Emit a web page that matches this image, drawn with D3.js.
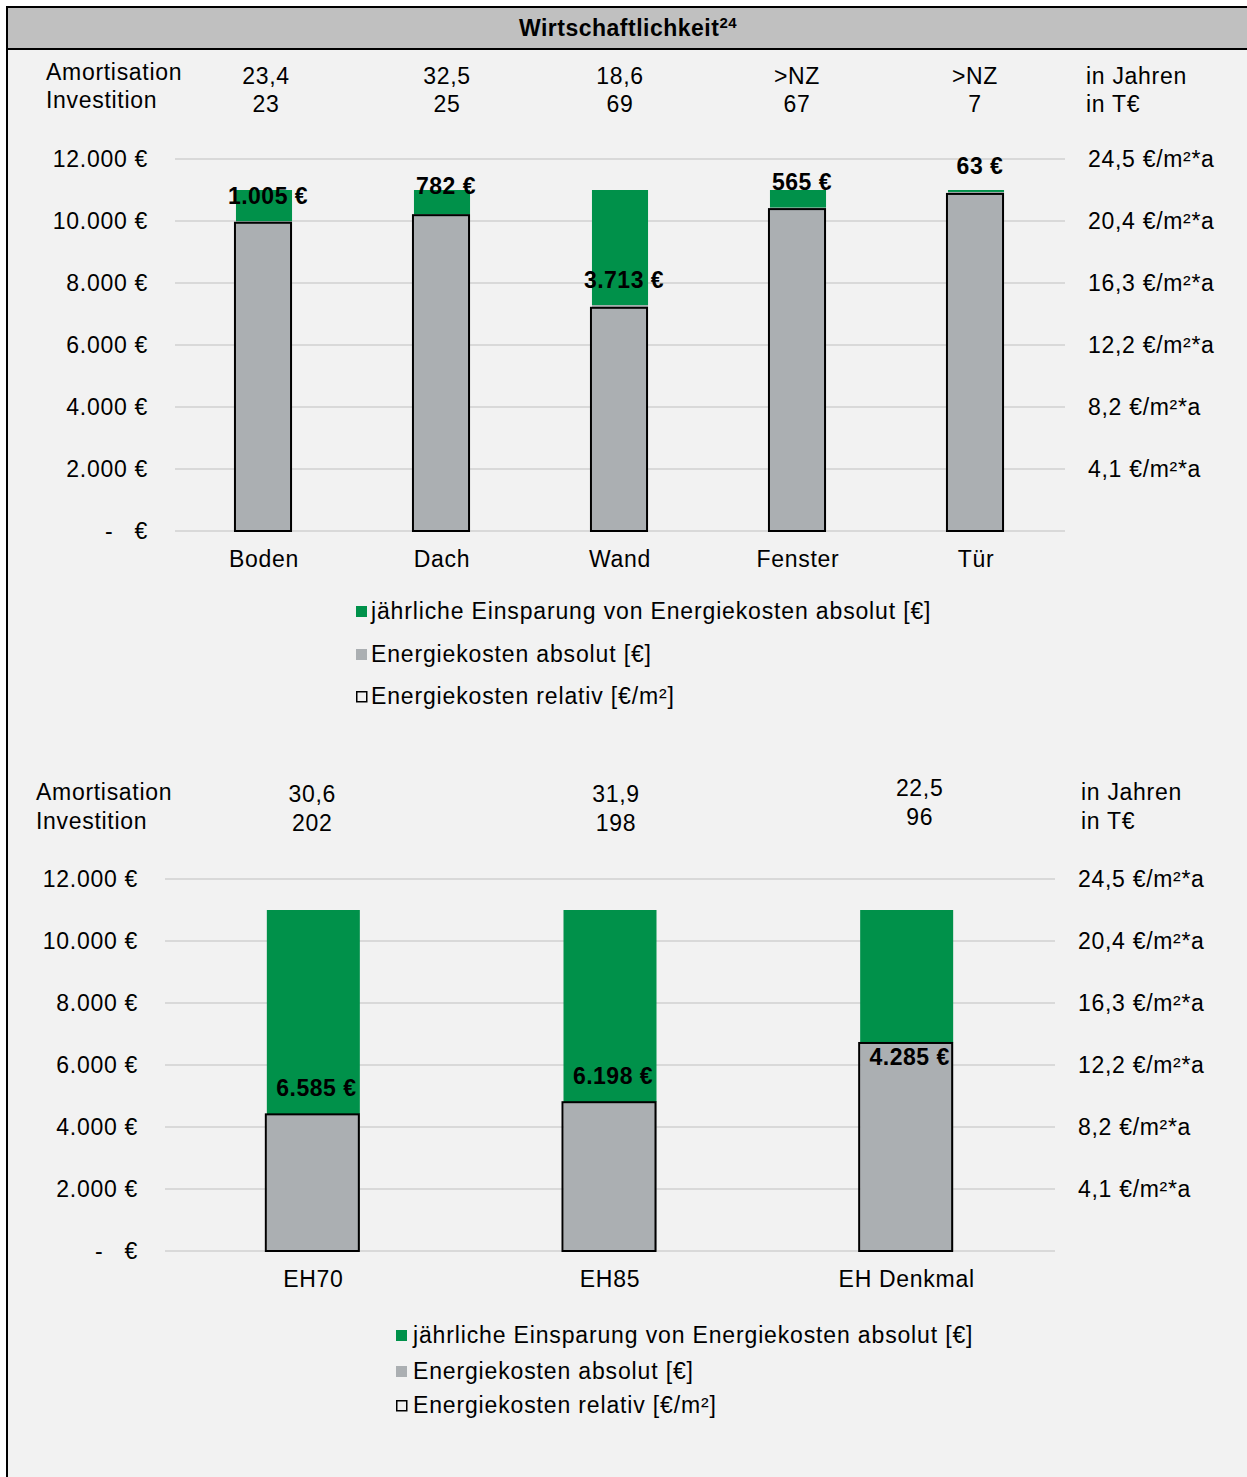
<!DOCTYPE html>
<html>
<head>
<meta charset="utf-8">
<script src="https://cdn.jsdelivr.net/npm/d3@7"></script>
<style>
  html, body { margin: 0; padding: 0; background: #ffffff; }
  svg { display: block; }
  text { font-family: "Liberation Sans", Arial, sans-serif; fill: #000; letter-spacing: 0.7px; }
  text.bold { letter-spacing: 0.5px; }
</style>
</head>
<body>
<svg id="chart" width="1247" height="1477"></svg>
<script>
// ---------------- DATA ----------------
const title = "Wirtschaftlichkeit";
const titleSup = "24";

const catsTop = ["Boden", "Dach", "Wand", "Fenster", "Tür"];
const savingsTop = [1005, 782, 3713, 565, 63];          // jährliche Einsparung [€]
const absoluteTop = [9995, 10218, 7287, 10435, 10937];  // Energiekosten absolut [€]
const relativeTop = [20.3, 20.8, 14.7, 21.2, 22.2];     // Energiekosten relativ [€/m²a]
const amortTop = ["23,4", "32,5", "18,6", ">NZ", ">NZ"];
const investTop = ["23", "25", "69", "67", "7"];

const catsBottom = ["EH70", "EH85", "EH Denkmal"];
const savingsBottom = [6585, 6198, 4285];
const absoluteBottom = [4415, 4802, 6715];
const relativeBottom = [9.0, 9.8, 13.7];
const amortBottom = ["30,6", "31,9", "22,5"];
const investBottom = ["202", "198", "96"];

const leftTickValues = [0, 2000, 4000, 6000, 8000, 10000, 12000];
const leftTickLabels = ["-   €", "2.000 €", "4.000 €", "6.000 €", "8.000 €", "10.000 €", "12.000 €"];
const rightMax = 24.5;
const rightTickLabels = ["4,1 €/m²*a", "8,2 €/m²*a", "12,2 €/m²*a", "16,3 €/m²*a", "20,4 €/m²*a", "24,5 €/m²*a"];

const legendLabels = [
  "jährliche Einsparung von Energiekosten absolut [€]",
  "Energiekosten absolut [€]",
  "Energiekosten relativ [€/m²]"
];
const rowLabels = ["Amortisation", "Investition"];
const unitLabels = ["in Jahren", "in T€"];

// ---------------- STYLE ----------------
const GREEN = "#00914a";
const GRAY = "#abafb2";
const GRID = "#d9d9d9";
const FS = 23;

const svg = d3.select("#chart");

// frame
svg.append("rect").attr("x", 7).attr("y", 7).attr("width", 1260).attr("height", 1490)
  .attr("fill", "#f2f2f2").attr("stroke", "#000").attr("stroke-width", 2);
svg.append("rect").attr("x", 7).attr("y", 7).attr("width", 1260).attr("height", 42)
  .attr("fill", "#c0c0c0").attr("stroke", "#000").attr("stroke-width", 2);
const tt = svg.append("text").attr("class", "bold").attr("x", 628).attr("y", 36).attr("text-anchor", "middle")
  .attr("font-weight", "bold").attr("font-size", 23);
tt.append("tspan").text(title);
tt.append("tspan").attr("font-size", 15).attr("dy", -8).text(titleSup);

function drawChart(cfg) {
  const g = svg.append("g");
  const y = d3.scaleLinear().domain([0, 12000]).range([cfg.y0, cfg.y0 - 372]);
  const yR = d3.scaleLinear().domain([0, rightMax]).range([cfg.y0, cfg.y0 - 372]);
  const x = d3.scaleBand().domain(cfg.cats).range([cfg.x0, cfg.x1])
    .paddingInner(cfg.pad).paddingOuter(cfg.pad / 2);

  // gridlines
  g.selectAll("line.grid").data(leftTickValues).join("line")
    .attr("x1", cfg.x0).attr("x2", cfg.x1)
    .attr("y1", d => y(d)).attr("y2", d => y(d))
    .attr("stroke", GRID).attr("stroke-width", 2);

  // left axis
  const axL = d3.axisLeft(y).tickValues(leftTickValues)
    .tickFormat((d, i) => leftTickLabels[i]).tickSize(0).tickPadding(27);
  const gl = g.append("g").attr("transform", `translate(${cfg.x0},0)`).call(axL);
  gl.select(".domain").remove();
  gl.selectAll("text").attr("font-size", FS).attr("font-family", "Liberation Sans, Arial, sans-serif")
    .style("white-space", "pre").attr("fill", "#000");

  // right axis
  const rTicks = rightTickLabels.map((_, i) => rightMax / 6 * (i + 1));
  const axR = d3.axisRight(yR).tickValues(rTicks)
    .tickFormat((d, i) => rightTickLabels[i]).tickSize(0).tickPadding(23);
  const gr = g.append("g").attr("transform", `translate(${cfg.x1},0)`).call(axR);
  gr.select(".domain").remove();
  gr.selectAll("text").attr("font-size", FS).attr("font-family", "Liberation Sans, Arial, sans-serif").attr("fill", "#000");

  // bottom axis
  const axB = d3.axisBottom(x).tickSize(0).tickPadding(0);
  const gb = g.append("g").attr("transform", `translate(0,${cfg.y0})`).call(axB);
  gb.select(".domain").remove();
  gb.selectAll("text").attr("font-size", FS).attr("font-family", "Liberation Sans, Arial, sans-serif")
    .attr("fill", "#000").attr("dy", 36).attr("y", 0);

  const rows = cfg.cats.map((c, i) => ({
    c, s: cfg.sav[i], a: cfg.abs[i], r: cfg.rel[i], i
  }));

  // gray absolute
  g.selectAll("rect.abs").data(rows).join("rect")
    .attr("x", d => x(d.c)).attr("width", x.bandwidth())
    .attr("y", d => y(d.a)).attr("height", d => y(0) - y(d.a))
    .attr("fill", GRAY);
  // green savings stacked
  g.selectAll("rect.sav").data(rows).join("rect")
    .attr("x", d => x(d.c)).attr("width", x.bandwidth())
    .attr("y", d => y(d.a + d.s)).attr("height", d => y(d.a) - y(d.a + d.s))
    .attr("fill", GREEN);
  // outline relative
  g.selectAll("rect.rel").data(rows).join("rect")
    .attr("x", d => x(d.c) - 1).attr("width", x.bandwidth())
    .attr("y", d => yR(d.r)).attr("height", d => yR(0) - yR(d.r))
    .attr("fill", "none").attr("stroke", "#000").attr("stroke-width", 2);

  // savings labels
  const fmt = d3.formatLocale({ decimal: ",", thousands: ".", grouping: [3], currency: ["", " €"] }).format("$,.0f");
  g.selectAll("text.lab").data(rows).join("text")
    .attr("class", "bold")
    .attr("x", d => x(d.c) + x.bandwidth() / 2 + cfg.labDx)
    .attr("y", d => y(d.a) + cfg.labDy[d.i])
    .attr("text-anchor", "middle").attr("font-weight", "bold").attr("font-size", FS)
    .text(d => fmt(d.s));

  // annotation rows
  g.append("text").attr("x", cfg.rowX).attr("y", cfg.rowY[0]).attr("font-size", FS).text(rowLabels[0]);
  g.append("text").attr("x", cfg.rowX).attr("y", cfg.rowY[1]).attr("font-size", FS).text(rowLabels[1]);
  g.append("text").attr("x", cfg.unitX).attr("y", cfg.rowY[0] + cfg.unitDy).attr("font-size", FS).text(unitLabels[0]);
  g.append("text").attr("x", cfg.unitX).attr("y", cfg.rowY[1] + cfg.unitDy).attr("font-size", FS).text(unitLabels[1]);
  g.selectAll("text.am").data(rows).join("text")
    .attr("x", d => x(d.c) + x.bandwidth() / 2 + cfg.annDx[d.i])
    .attr("y", d => cfg.rowY[0] + cfg.annDy[d.i])
    .attr("text-anchor", "middle").attr("font-size", FS).text(d => cfg.amort[d.i]);
  g.selectAll("text.inv").data(rows).join("text")
    .attr("x", d => x(d.c) + x.bandwidth() / 2 + cfg.annDx[d.i])
    .attr("y", d => cfg.rowY[1] + cfg.annDy[d.i])
    .attr("text-anchor", "middle").attr("font-size", FS).text(d => cfg.invest[d.i]);

  // legend
  const colors = [GREEN, GRAY, null];
  legendLabels.forEach((t, i) => {
    const cy = cfg.legY[i];
    if (colors[i]) {
      g.append("rect").attr("x", cfg.legX).attr("y", cy - 5).attr("width", 11).attr("height", 11).attr("fill", colors[i]);
    } else {
      g.append("rect").attr("x", cfg.legX + 0.75).attr("y", cy - 4.25).attr("width", 10).attr("height", 10)
        .attr("fill", "none").attr("stroke", "#000").attr("stroke-width", 1.5);
    }
    g.append("text").attr("x", cfg.legTX).attr("y", cy + 8).attr("font-size", FS)
      .style("letter-spacing", "0.85px").text(t);
  });
}

drawChart({
  cats: catsTop, sav: savingsTop, abs: absoluteTop, rel: relativeTop,
  amort: amortTop, invest: investTop,
  x0: 175, x1: 1065, y0: 531, pad: 0.685,
  labDx: 4, labDy: [-17, -20, -17, -18, -18],
  rowX: 46, rowY: [80, 108], unitX: 1086, unitDy: 4,
  annDx: [2, 5, 0, -1, -1], annDy: [4, 4, 4, 4, 4],
  legX: 356, legTX: 371, legY: [611, 654, 696]
});

drawChart({
  cats: catsBottom, sav: savingsBottom, abs: absoluteBottom, rel: relativeBottom,
  amort: amortBottom, invest: investBottom,
  x0: 165, x1: 1055, y0: 1251, pad: 0.6865,
  labDx: 3, labDy: [-18.5, -18, 22],
  rowX: 36, rowY: [800, 829], unitX: 1081, unitDy: 0,
  annDx: [-1, 6, 13], annDy: [2, 2, -4],
  legX: 396, legTX: 413, legY: [1335, 1371, 1405]
});
</script>
</body>
</html>
